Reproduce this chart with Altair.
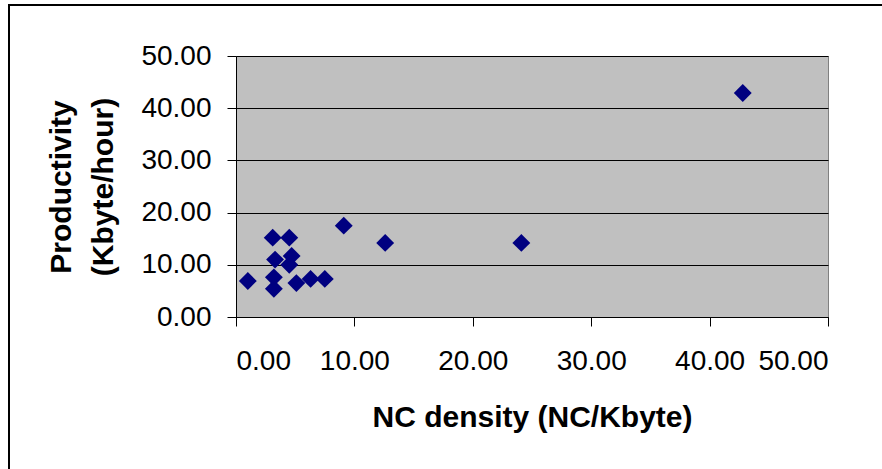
import altair as alt
import pandas as pd

nc_density = [1.0, 3.1, 4.5, 9.1, 3.3, 4.7, 4.5, 3.2, 3.2, 5.1, 6.3, 7.5, 12.6, 24.1, 42.8]
productivity = [6.9, 15.2, 15.2, 17.5, 11.0, 11.7, 10.0, 7.6, 5.4, 6.5, 7.3, 7.3, 14.2, 14.2, 42.9]
tick_values = [0, 10, 20, 30, 40, 50]

df = pd.DataFrame({"nc": nc_density, "prod": productivity})

FONT = "Liberation Sans"

points = alt.Chart(df).mark_point(
    shape="diamond", filled=True, color="#000080", size=320, opacity=1
).encode(
    x=alt.X("nc:Q", scale=alt.Scale(domain=[0, 50], nice=False, zero=True),
            axis=alt.Axis(values=tick_values, format=".2f", title="NC density (NC/Kbyte)",
                          grid=False, domainColor="black", tickColor="black",
                          tickSize=9, labelPadding=21, titlePadding=27)),
    y=alt.Y("prod:Q", scale=alt.Scale(domain=[0, 50], nice=False, zero=True),
            axis=alt.Axis(values=tick_values, format=".2f",
                          title=["Productivity", "(Kbyte/hour)"],
                          grid=True, gridColor="black", gridWidth=1,
                          domainColor="black", tickColor="black",
                          tickSize=9, labelPadding=16, titlePadding=22,
                          titleLineHeight=42)),
)

frame = alt.Chart(df).mark_rect(
    fill=None, stroke="black", strokeWidth=2, clip=False
).encode(
    x=alt.value(-227), x2=alt.value(700), y=alt.value(-51), y2=alt.value(500)
)

chart = alt.layer(frame, points).properties(
    width=592, height=261,
    autosize=alt.AutoSizeParams(type="none"),
    padding={"left": 236, "top": 56, "right": 54, "bottom": 152},
    background="white",
).configure_view(
    fill="#C0C0C0", stroke="#808080", strokeWidth=1
).configure_axis(
    labelFont=FONT, labelFontSize=28, labelColor="black",
    titleFont=FONT, titleFontSize=30, titleFontWeight="bold", titleColor="black",
)

chart.save("out.html", embed_options={"renderer": "svg", "actions": False})
